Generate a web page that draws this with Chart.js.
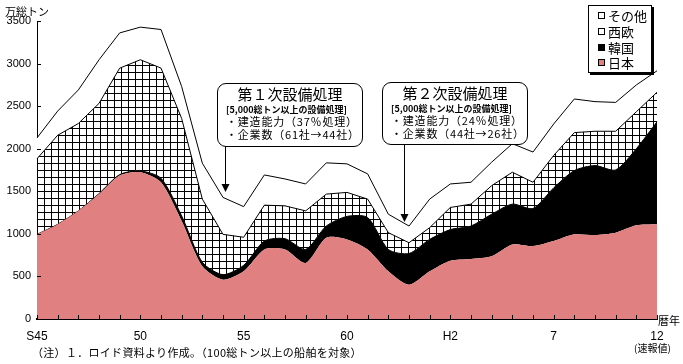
<!DOCTYPE html>
<html lang="ja">
<head>
<meta charset="utf-8">
<title>世界の造船竣工量の推移</title>
<script src="https://cdn.jsdelivr.net/npm/chart.js@4.4.1/dist/chart.umd.min.js"></script>
<style>
  html, body { margin: 0; padding: 0; background: #fff; }
  #wrap { position: relative; width: 683px; height: 364px; font-family: "Noto Sans CJK JP", sans-serif; color: #000; overflow: hidden; }
  #chart { position: absolute; left: 0; top: 0; }
  .txt { position: absolute; white-space: nowrap; line-height: 1; }
  .sp { letter-spacing: 0.8px; }
  .box { position: absolute; border: 1px solid #000; border-radius: 9px; background: #fff; box-sizing: border-box; }
  .legend { position: absolute; left: 588px; top: 5px; width: 64px; height: 68px; border: 1px solid #000; background: #fff; box-shadow: 2px 2px 0 #000; box-sizing: border-box; }
  .legend .row { position: absolute; left: 9px; height: 14px; font-size: 13px; line-height: 14px; white-space: nowrap; }
  .legend .sw { display: inline-block; width: 7px; height: 7px; border: 1px solid #000; box-sizing: border-box; margin-right: 3px; vertical-align: 2px; }
</style>
</head>
<body>
<div id="wrap">
  <canvas id="chart" width="683" height="364"></canvas>

  <div class="txt" style="left:5px; top:6px; font-size:11px;">万総トン</div>
  <div class="txt" style="left:658px; top:315px; font-size:11px;">暦年</div>
  <div class="txt" style="left:634px; top:343px; font-size:10px;">(速報値)</div>
  <div class="txt" style="left:32px; top:347px; font-size:11px; letter-spacing:0.3px;">（注）１．ロイド資料より作成。（100総トン以上の船舶を対象）</div>

  <!-- 第1次 -->
  <div class="box" style="left:217px; top:83px; width:146px; height:64px;"></div>
  <div class="txt" style="left:217px; width:146px; text-align:center; top:86px; font-size:15px;">第１次設備処理</div>
  <div class="txt" style="left:226px; top:105px; font-size:9px; font-weight:bold;">[5,000総トン以上の設備処理]</div>
  <div class="txt sp" style="left:226px; top:116px; font-size:11px;">・建造能力（37％処理）</div>
  <div class="txt sp" style="left:226px; top:129px; font-size:11px;">・企業数（61社→44社）</div>

  <!-- 第2次 -->
  <div class="box" style="left:382px; top:82px; width:146px; height:63px;"></div>
  <div class="txt" style="left:382px; width:146px; text-align:center; top:85px; font-size:15px;">第２次設備処理</div>
  <div class="txt" style="left:391px; top:104px; font-size:9px; font-weight:bold;">[5,000総トン以上の設備処理]</div>
  <div class="txt sp" style="left:391px; top:115px; font-size:11px;">・建造能力（24％処理）</div>
  <div class="txt sp" style="left:391px; top:128px; font-size:11px;">・企業数（44社→26社）</div>

  <div class="legend">
    <div class="row" style="top:3px;"><span class="sw" style="background:#fff"></span>その他</div>
    <div class="row" style="top:19px;"><span class="sw" style="background:#fff"></span>西欧</div>
    <div class="row" style="top:35px;"><span class="sw" style="background:#000"></span>韓国</div>
    <div class="row" style="top:50px;"><span class="sw" style="background:#e08080"></span>日本</div>
  </div>
</div>

<script>
// 暦年 S45(1970) ～ H12(2000)
const years = [1970, 1971, 1972, 1973, 1974, 1975, 1976, 1977, 1978, 1979,
               1980, 1981, 1982, 1983, 1984, 1985, 1986, 1987, 1988, 1989,
               1990, 1991, 1992, 1993, 1994, 1995, 1996, 1997, 1998, 1999, 2000];
const xTickLabels = ['S45', '50', '55', '60', 'H2', '7', '12'];
const yTicks = [0, 500, 1000, 1500, 2000, 2500, 3000, 3500];

// 万総トン
const japan  = [994, 1112, 1270, 1467, 1684, 1724, 1606, 1152, 619, 462,
                560, 817, 817, 659, 955, 935, 817, 560, 402, 560,
                685, 706, 737, 876, 856, 915, 994, 986, 1014, 1100, 1112];
const korea  = [0, 0, 0, 5, 12, 15, 47, 59, 47, 59,
                70, 98, 126, 158, 137, 270, 375, 257, 367, 375,
                365, 386, 494, 473, 442, 625, 749, 816, 737, 900, 1204];
const west   = [888, 1046, 1026, 1060, 1250, 1306, 1294, 1144, 742, 473,
                330, 422, 386, 453, 375, 282, 216, 197, 127, 138,
                260, 257, 335, 375, 308, 381, 446, 403, 454, 434, 347];
const others = [245, 284, 394, 512, 414, 383, 453, 375, 422, 434,
                360, 355, 316, 316, 367, 335, 296, 217, 196, 335,
                276, 257, 276, 335, 355, 369, 395, 348, 339, 315, 252];

const canvas = document.getElementById('chart');
const ctx = canvas.getContext('2d');

// 西欧の格子模様
function makeHatch() {
  const c = document.createElement('canvas');
  c.width = 7; c.height = 7;
  const g = c.getContext('2d');
  g.fillStyle = '#fff'; g.fillRect(0, 0, 7, 7);
  g.fillStyle = '#000';
  g.fillRect(2, 0, 1, 7);
  g.fillRect(0, 2, 7, 1);
  return ctx.createPattern(c, 'repeat');
}

// 目盛り（内向き）と矢印
const marks = {
  id: 'marks',
  afterDatasetsDraw(chart) {
    const { ctx, chartArea: a, scales: { x, y } } = chart;
    ctx.save();
    ctx.strokeStyle = '#000';
    ctx.lineWidth = 1;
    ctx.beginPath();
    y.ticks.forEach((t, i) => {
      const py = Math.round(y.getPixelForTick(i)) + 0.5;
      ctx.moveTo(a.left, py); ctx.lineTo(a.left + 4, py);
    });
    x.ticks.forEach((t, i) => {
      const px = Math.round(x.getPixelForTick(i)) + 0.5;
      ctx.moveTo(px, a.bottom); ctx.lineTo(px, a.bottom - 4);
    });
    ctx.stroke();

    // 吹き出しの矢印
    [[225, 146, 192], [404, 144, 222]].forEach(([ax, y1, y2]) => {
      ctx.beginPath();
      ctx.moveTo(ax + 0.5, y1); ctx.lineTo(ax + 0.5, y2 - 6);
      ctx.stroke();
      ctx.beginPath();
      ctx.moveTo(ax - 3.5, y2 - 8); ctx.lineTo(ax + 4.5, y2 - 8); ctx.lineTo(ax + 0.5, y2);
      ctx.closePath();
      ctx.fillStyle = '#000';
      ctx.fill();
    });
    ctx.restore();
  }
};

Chart.defaults.font.family = '"Liberation Sans", Arial, sans-serif';
Chart.defaults.color = '#000';

new Chart(ctx, {
  type: 'line',
  data: {
    labels: years,
    datasets: [
      { label: '日本', data: japan, fill: 'origin', backgroundColor: '#e08080', borderWidth: 0, tension: 0.25 },
      { label: '韓国', data: korea, fill: '-1', backgroundColor: '#000', borderColor: '#000', borderWidth: 1, tension: 0.25 },
      { label: '西欧', data: west, fill: '-1', backgroundColor: makeHatch(), borderColor: '#000', borderWidth: 1, tension: 0 },
      { label: 'その他', data: others, fill: '-1', backgroundColor: '#fff', borderColor: '#000', borderWidth: 1, tension: 0 }
    ]
  },
  options: {
    responsive: false,
    animation: false,
    devicePixelRatio: 1,
    layout: { padding: { left: 0, top: 21, right: 26, bottom: 0 } },
    elements: { point: { radius: 0 } },
    plugins: { legend: { display: false }, tooltip: { enabled: false } },
    scales: {
      x: {
        grid: { display: false, tickLength: 0 },
        border: { display: true, color: '#000', width: 2 },
        ticks: {
          autoSkip: false, maxRotation: 0, padding: 10,
          font: { size: 12 },
          callback: (v, i) => (i % 5 === 0 ? xTickLabels[i / 5] : '')
        },
        afterFit: s => { s.height = 45; }
      },
      y: {
        stacked: true,
        min: 0, max: 3500,
        grid: { display: false, tickLength: 0 },
        border: { display: true, color: '#000', width: 1 },
        ticks: {
          stepSize: 500, padding: 6,
          font: { size: 11 },
          callback: v => (yTicks.includes(v) ? String(v) : '')
        },
        afterFit: s => { s.width = 37; }
      }
    }
  },
  plugins: [marks]
});
</script>
</body>
</html>
